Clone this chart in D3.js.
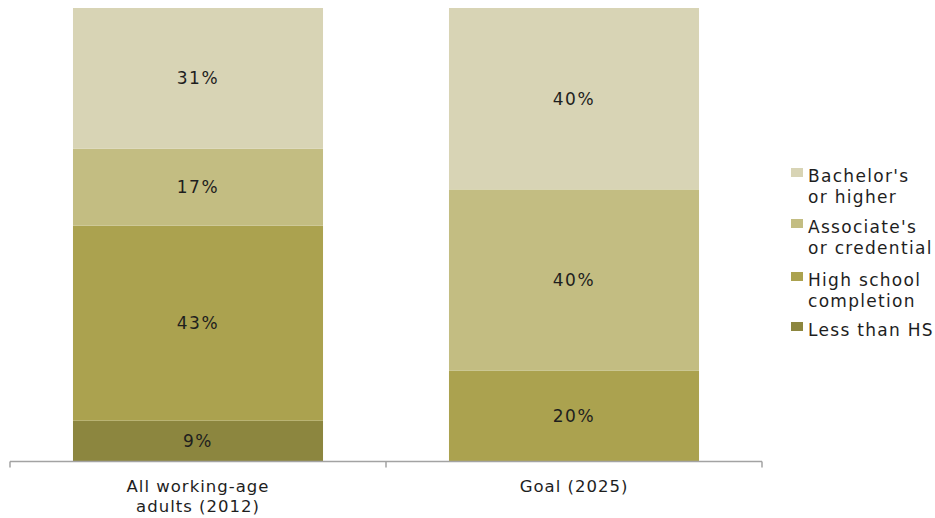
<!DOCTYPE html>
<html>
<head>
<meta charset="utf-8">
<script src="https://cdn.jsdelivr.net/npm/d3@7"></script>
<style>
  html, body { margin: 0; padding: 0; background: #fff; }
  svg text { font-family: "DejaVu Sans", sans-serif; fill: #1e1e1e; }
</style>
</head>
<body>
<svg id="chart" width="935" height="518"></svg>
<script>
// Educational attainment: current working-age adults vs. 2025 goal
const categories = ["All working-age adults (2012)", "Goal (2025)"];
const categoryLines = [["All working-age", "adults (2012)"], ["Goal (2025)"]];
const levels = ["Less than HS", "High school completion", "Associate's or credential", "Bachelor's or higher"];
const legendLines = [["Less than HS"], ["High school", "completion"], ["Associate's", "or credential"], ["Bachelor's", "or higher"]];
const lessThanHS   = [9, 0];
const highSchool   = [43, 20];
const associates   = [17, 40];
const bachelors    = [31, 40];
const colors = ["#8c863f", "#aba24f", "#c3bd82", "#d8d4b5"];

const svg = d3.select("#chart");

const x = d3.scaleBand().domain(categories).range([10, 762])
  .paddingInner(0.335).paddingOuter(0.1675);
const y = d3.scaleLinear().domain([0, 100]).range([461.5, 8]);

const rows = categories.map((c, i) => ({
  cat: c,
  [levels[0]]: lessThanHS[i],
  [levels[1]]: highSchool[i],
  [levels[2]]: associates[i],
  [levels[3]]: bachelors[i]
}));
const series = d3.stack().keys(levels)(rows);

const layer = svg.append("g").selectAll("g").data(series).join("g")
  .attr("fill", (d, i) => colors[i]);

layer.selectAll("rect").data(d => d.filter(s => s[1] - s[0] > 0)).join("rect")
  .attr("x", d => x(d.data.cat))
  .attr("width", x.bandwidth())
  .attr("y", d => y(d[1]))
  .attr("height", d => y(d[0]) - y(d[1]));

layer.selectAll("text").data(d => d.filter(s => s[1] - s[0] > 0)).join("text")
  .attr("x", d => x(d.data.cat) + x.bandwidth() / 2)
  .attr("y", d => (y(d[0]) + y(d[1])) / 2 + 6)
  .attr("text-anchor", "middle")
  .style("font-size", "17px")
  .style("letter-spacing", "1.6px")
  .text(d => (d[1] - d[0]) + "%");

// Baseline with ticks at the band edges
const axis = svg.append("g").attr("stroke", "#a3a3a3").attr("stroke-width", 1.5);
axis.append("line").attr("x1", x.range()[0]).attr("x2", x.range()[1])
  .attr("y1", y(0)).attr("y2", y(0));
const step = x.step();
const edges = [x(categories[0]) - step * x.paddingOuter()]
  .concat(categories.map(c => x(c) - step * x.paddingOuter() + step));
axis.selectAll("line.tick").data(edges).join("line").attr("class", "tick")
  .attr("x1", d => d).attr("x2", d => d)
  .attr("y1", y(0)).attr("y2", y(0) + 6);

// Category labels
svg.append("g").selectAll("text").data(categories).join("text")
  .attr("x", d => x(d) + x.bandwidth() / 2)
  .attr("y", 492)
  .attr("text-anchor", "middle")
  .style("font-size", "16.5px")
  .style("letter-spacing", "1px")
  .selectAll("tspan").data((d, i) => categoryLines[i]).join("tspan")
  .attr("x", function () { return d3.select(this.parentNode).attr("x"); })
  .attr("dy", (d, i) => i === 0 ? 0 : 20)
  .text(d => d);

// Legend, top entry first
const legendY = [322, 272, 219, 168];
const legend = svg.append("g").selectAll("g").data(levels).join("g")
  .attr("transform", (d, i) => `translate(791,${legendY[i]})`);
legend.append("rect").attr("width", 12).attr("height", 9)
  .attr("fill", (d, i) => colors[i]);
legend.append("text")
  .attr("x", 17).attr("y", 13.5)
  .style("font-size", "17px")
  .style("letter-spacing", "1.3px")
  .selectAll("tspan").data((d, i) => legendLines[i]).join("tspan")
  .attr("x", 17)
  .attr("dy", (d, i) => i === 0 ? 0 : 21)
  .text(d => d);
</script>
</body>
</html>
